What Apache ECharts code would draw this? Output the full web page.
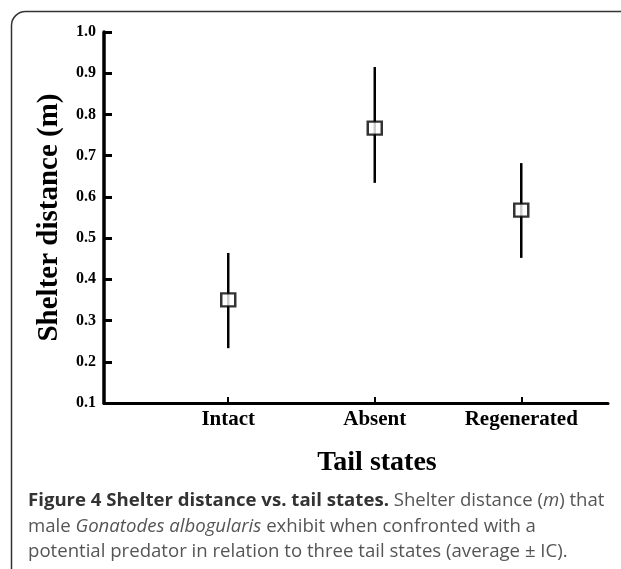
<!DOCTYPE html>
<html>
<head>
<meta charset="utf-8">
<script src="https://cdn.jsdelivr.net/npm/echarts@6/dist/echarts.min.js"></script>
<style>
html,body{margin:0;padding:0;background:#fff;}
#chart{width:621px;height:569px;}
</style>
</head>
<body>
<div id="chart"></div>
<script>
const categories = ['Intact', 'Absent', 'Regenerated'];
const means = [0.350, 0.767, 0.568];
const lower = [0.233, 0.634, 0.452];
const upper = [0.464, 0.915, 0.682];
const yMin = 0.1, yMax = 1.0, yStep = 0.1;

const chart = echarts.init(document.getElementById('chart'), null, {renderer: 'canvas'});
const serif = '"Liberation Serif", "Times New Roman", serif';
const sans = '"Open Sans", "Noto Sans", sans-serif';
const capSize = 18.6;

const option = {
  backgroundColor: '#fff',
  animation: false,
  grid: {left: 104, right: 13, top: 32, bottom: 166},
  xAxis: {
    type: 'value',
    min: -0.848,
    max: 2.592,
    name: 'Tail states',
    nameLocation: 'middle',
    nameGap: 46,
    nameTextStyle: {fontFamily: serif, fontWeight: 'bold', fontSize: 28, color: '#000', padding: [0, 0, 0, 42]},
    splitLine: {show: false},
    axisLine: {show: true, onZero: false, lineStyle: {color: '#000', width: 3}},
    axisTick: {show: true, inside: true, length: 6, customValues: [0, 1, 2], lineStyle: {color: '#000', width: 2}},
    axisLabel: {
      customValues: [0, 1, 2],
      formatter: v => categories[Math.round(v)] || '',
      fontFamily: serif, fontWeight: 'bold', fontSize: 21, color: '#000', margin: 6
    }
  },
  yAxis: {
    type: 'value',
    min: yMin,
    max: yMax,
    interval: yStep,
    name: 'Shelter distance (m)',
    nameLocation: 'middle',
    nameGap: 40,
    nameTextStyle: {fontFamily: serif, fontWeight: 'bold', fontSize: 29, color: '#000'},
    splitLine: {show: false},
    axisLine: {show: true, onZero: false, lineStyle: {color: '#000', width: 3.5}},
    axisTick: {show: true, inside: true, length: 8, lineStyle: {color: '#000', width: 3}},
    axisLabel: {
      formatter: v => v.toFixed(1),
      fontFamily: serif, fontWeight: 'bold', fontSize: 16, color: '#000', margin: 8
    }
  },
  series: [
    {
      type: 'custom',
      data: categories.map((c, i) => [i, lower[i], upper[i]]),
      renderItem: function (params, api) {
        const p1 = api.coord([api.value(0), api.value(1)]);
        const p2 = api.coord([api.value(0), api.value(2)]);
        return {
          type: 'line',
          shape: {x1: p1[0], y1: p1[1], x2: p2[0], y2: p2[1]},
          style: {stroke: '#000', lineWidth: 2.5}
        };
      },
      z: 2
    },
    {
      type: 'scatter',
      data: categories.map((c, i) => [i, means[i]]),
      symbol: 'rect',
      symbolSize: [14, 13],
      itemStyle: {color: '#fff', borderColor: '#000', borderWidth: 2.4},
      z: 3
    }
  ],
  graphic: [
    {
      type: 'rect',
      shape: {x: 11.5, y: 11.5, width: 700, height: 578, r: 14},
      style: {fill: 'none', stroke: '#333', lineWidth: 1.5},
      silent: true
    },
    {
      type: 'text', x: 28, y: 501,
      style: {
        text: '{b|Figure 4 Shelter distance vs. tail states.}{r| Shelter distance (}{i|m}{r|) that}',
        verticalAlign: 'middle',
        rich: {
          b: {fontFamily: sans, fontSize: capSize, fontWeight: 'bold', fill: '#333'},
          r: {fontFamily: sans, fontSize: capSize, fill: '#555'},
          i: {fontFamily: sans, fontSize: capSize, fontStyle: 'italic', fill: '#555'}
        }
      }
    },
    {
      type: 'text', x: 28, y: 527,
      style: {
        text: '{r|male }{i|Gonatodes albogularis}{r| exhibit when confronted with a}',
        verticalAlign: 'middle',
        rich: {
          r: {fontFamily: sans, fontSize: capSize, fill: '#555'},
          i: {fontFamily: sans, fontSize: capSize, fontStyle: 'italic', fill: '#555'}
        }
      }
    },
    {
      type: 'text', x: 28, y: 552,
      style: {
        text: 'potential predator in relation to three tail states (average \u00b1 IC).',
        verticalAlign: 'middle',
        fontFamily: sans, fontSize: capSize, fill: '#555'
      }
    }
  ]
};
chart.setOption(option);
</script>
</body>
</html>
